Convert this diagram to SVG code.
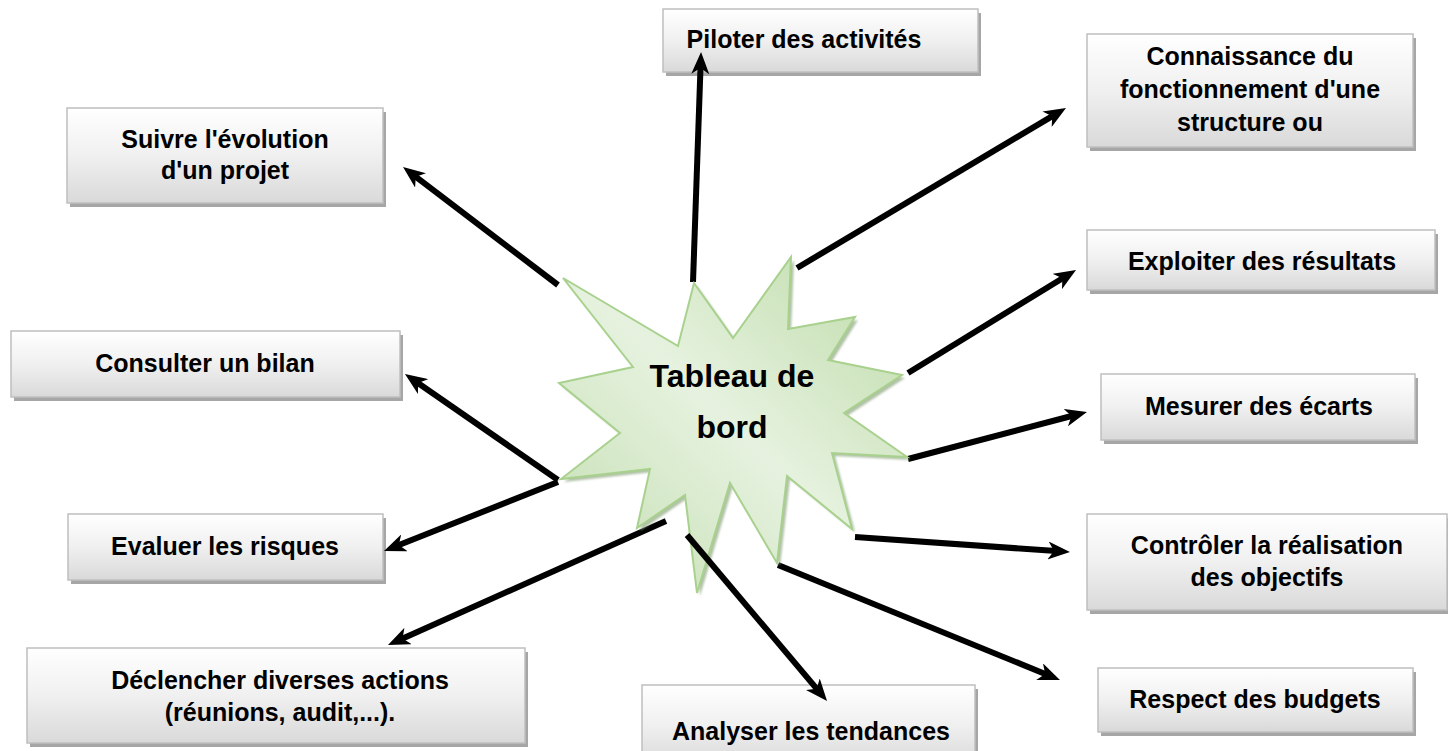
<svg xmlns="http://www.w3.org/2000/svg" width="1448" height="751" viewBox="0 0 1448 751">
<style>
.box{fill:url(#boxg);stroke:#bfbfbf;stroke-width:1.5}
.shd{fill:#a6a6a6}
.lbl{font-family:"Liberation Sans",Arial,sans-serif;font-weight:bold;font-size:25px;fill:#000;text-anchor:middle}
.ctr{font-family:"Liberation Sans",Arial,sans-serif;font-weight:bold;font-size:32px;fill:#000;text-anchor:middle}
.arr{stroke:#000;stroke-width:6;fill:none;marker-end:url(#ah)}
</style>
<defs>
<linearGradient id="boxg" x1="0" y1="0" x2="0" y2="1">
<stop offset="0" stop-color="#ffffff"/>
<stop offset="0.5" stop-color="#f0f0f0"/>
<stop offset="1" stop-color="#d9d9d9"/>
</linearGradient>
<linearGradient id="starg" x1="1" y1="0" x2="0" y2="1">
<stop offset="0" stop-color="#bcdaa6"/>
<stop offset="0.5" stop-color="#e6f2df"/>
<stop offset="1" stop-color="#c2ddaf"/>
</linearGradient>
<filter id="blur" x="-10%" y="-10%" width="120%" height="120%"><feGaussianBlur stdDeviation="1.2"/></filter>
<marker id="ah" markerUnits="userSpaceOnUse" markerWidth="22" markerHeight="18" viewBox="0 0 22 18" refX="12" refY="9" orient="auto">
<path d="M0,0 L22,9 L0,18 L6,9 Z" fill="#000"/>
</marker>
</defs>

<g id="node-piloter">
<rect class="shd" x="666" y="13" width="315" height="63"/>
<rect class="box" x="663" y="9" width="315" height="63"/>
<text class="lbl" x="804" y="48">Piloter des activités</text>
</g>

<g id="node-suivre">
<rect class="shd" x="70" y="112" width="316" height="95"/>
<rect class="box" x="67" y="108" width="316" height="95"/>
<text class="lbl" x="225" y="148">Suivre l'évolution</text>
<text class="lbl" x="225" y="179">d'un projet</text>
</g>

<g id="node-connaissance">
<rect class="shd" x="1090" y="38" width="326" height="113"/>
<rect class="box" x="1087" y="34" width="326" height="113"/>
<text class="lbl" x="1250" y="65">Connaissance du</text>
<text class="lbl" x="1250" y="98">fonctionnement d'une</text>
<text class="lbl" x="1250" y="131">structure ou</text>
</g>

<g id="node-exploiter">
<rect class="shd" x="1090" y="234" width="348" height="60"/>
<rect class="box" x="1087" y="230" width="348" height="60"/>
<text class="lbl" x="1262" y="270">Exploiter des résultats</text>
</g>

<g id="node-mesurer">
<rect class="shd" x="1104" y="378" width="314" height="66"/>
<rect class="box" x="1101" y="374" width="314" height="66"/>
<text class="lbl" x="1259" y="415">Mesurer des écarts</text>
</g>

<g id="node-controler">
<rect class="shd" x="1090" y="518" width="360" height="96"/>
<rect class="box" x="1087" y="514" width="360" height="96"/>
<text class="lbl" x="1267" y="554">Contrôler la réalisation</text>
<text class="lbl" x="1267" y="586">des objectifs</text>
</g>

<g id="node-respect">
<rect class="shd" x="1101" y="672" width="315" height="64"/>
<rect class="box" x="1098" y="668" width="315" height="64"/>
<text class="lbl" x="1255" y="708">Respect des budgets</text>
</g>

<g id="node-consulter">
<rect class="shd" x="14" y="335" width="389" height="66"/>
<rect class="box" x="11" y="331" width="389" height="66"/>
<text class="lbl" x="205" y="372">Consulter un bilan</text>
</g>

<g id="node-evaluer">
<rect class="shd" x="71" y="518" width="315" height="66"/>
<rect class="box" x="68" y="514" width="315" height="66"/>
<text class="lbl" x="225" y="555">Evaluer les risques</text>
</g>

<g id="node-declencher">
<rect class="shd" x="30" y="652" width="498" height="95"/>
<rect class="box" x="27" y="648" width="498" height="95"/>
<text class="lbl" x="280" y="689">Déclencher diverses actions</text>
<text class="lbl" x="280" y="721">(réunions, audit,...).</text>
</g>

<g id="node-analyser">
<rect class="shd" x="645" y="689" width="333" height="80"/>
<rect class="box" x="642" y="685" width="333" height="80"/>
<text class="lbl" x="811" y="740">Analyser les tendances</text>
</g>

<g id="connectors">
<line class="arr" x1="558" y1="285" x2="411" y2="173.1"/>
<line class="arr" x1="693" y1="282" x2="700.7" y2="62"/>
<line class="arr" x1="797" y1="268" x2="1057.4" y2="113.1"/>
<line class="arr" x1="908" y1="373" x2="1067.5" y2="275.2"/>
<line class="arr" x1="908" y1="459" x2="1077.3" y2="414.5"/>
<line class="arr" x1="855" y1="537" x2="1060" y2="551.3"/>
<line class="arr" x1="778" y1="565" x2="1050.7" y2="676.2"/>
<line class="arr" x1="666" y1="521" x2="397.1" y2="640.9"/>
<line class="arr" x1="558" y1="482" x2="393.3" y2="547.3"/>
<line class="arr" x1="558" y1="480" x2="413.2" y2="379.7"/>
</g>

<g id="node-center">
<polygon points="563,278 678,346 694,283 733,338 791,257 788,329 855,317 828,360 902,375 844,413 907,457 832,453 852,529 787,476 777,563 730,483 697,593 685,495 637,528 650,469 561,479 620,433 559,383 633,367" transform="translate(3,3)" fill="#8fa880" opacity="0.7" filter="url(#blur)"/>
<polygon points="563,278 678,346 694,283 733,338 791,257 788,329 855,317 828,360 902,375 844,413 907,457 832,453 852,529 787,476 777,563 730,483 697,593 685,495 637,528 650,469 561,479 620,433 559,383 633,367" fill="url(#starg)" stroke="#a9d18e" stroke-width="2" stroke-linejoin="miter"/>
<text class="ctr" x="732" y="387">Tableau de</text>
<text class="ctr" x="732" y="438">bord</text>
</g>

<g id="connector-analyser">
<line class="arr" x1="687" y1="535" x2="820.6" y2="693.4"/>
</g>
</svg>
